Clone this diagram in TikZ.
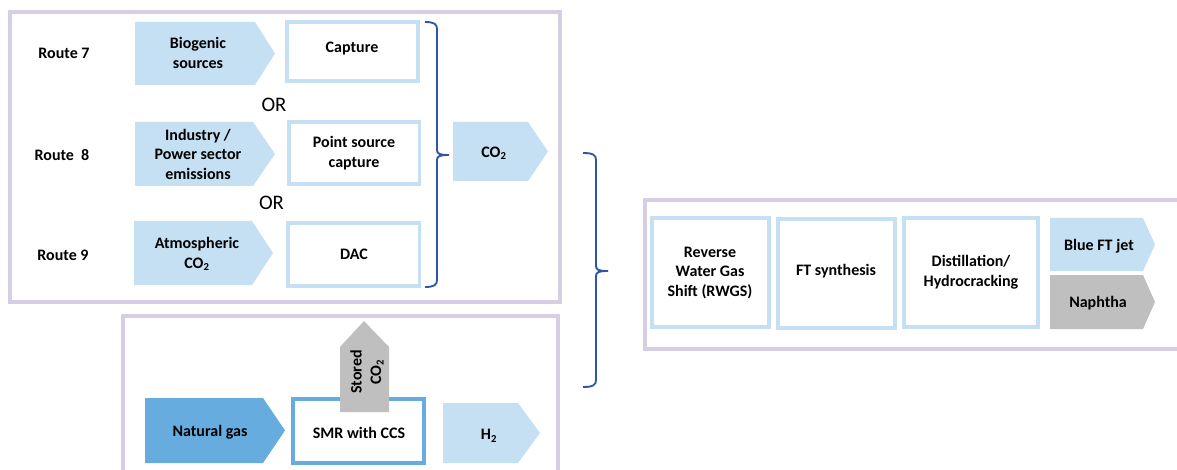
\documentclass[tikz,border=0pt]{standalone}
\usepackage{fontspec}
\setmainfont{Carlito}
\definecolor{lblue}{HTML}{C5DFF3}
\definecolor{mblue}{HTML}{66ACDF}
\definecolor{lpurple}{HTML}{D6CEE4}
\definecolor{grayf}{HTML}{BFBFBF}
\definecolor{bracec}{HTML}{2F55A4}
\newcommand{\hplate}[6]{\fill[#6] (#1,#2) -- (#3,#2) -- (#4,{(#2+#5)/2}) -- (#3,#5) -- (#1,#5) -- cycle;}
\newcommand{\mybrace}[5]{\draw[bracec,line width=1.4pt] (#1,#3) .. controls ({#2-3},#3) and (#2,{#3+2}) .. (#2,{#3+7}) -- (#2,{#4-5}) .. controls (#2,{#4-1}) and ({#2+3},#4) .. ({#2+12},#4) .. controls ({#2+3},#4) and (#2,{#4+1}) .. (#2,{#4+5}) -- (#2,{#5-7}) .. controls (#2,{#5-2}) and ({#2-3},#5) .. (#1,#5);}
\begin{document}
\begin{tikzpicture}[x=0.75pt,y=-0.75pt,
  txt/.style={font=\fontsize{12}{14.6}\selectfont\bfseries, align=center, inner sep=0pt},
  ortxt/.style={font=\fontsize{15.5}{18}\selectfont, inner sep=0pt},
  frame/.style={draw=lpurple, line width=2.3pt},
  stepbox/.style={draw=lblue, fill=white, line width=2.3pt},
  smrbox/.style={draw=mblue, fill=white, line width=2.4pt}]
\useasboundingbox[fill=white] (0,0) rectangle (1177,470);
% frames
\draw[frame] (10,12) rectangle (560,302);
\draw[frame] (123,316) rectangle (558,490);
\draw[frame] (645,200) rectangle (1195,349);
% route labels
\node[txt] (r7) at (64,53) {Route 7};
\node[txt] (r8) at (62,155) {Route\ \ 8};
\node[txt] (r9) at (63,255) {Route 9};
% input arrows
\hplate{135}{22}{255}{275}{85}{lblue}
\node[txt] (bio) at (198,53) {Biogenic\\sources};
\hplate{135}{122}{253}{275}{186}{lblue}
\node[txt] (ind) at (198,154) {Industry /\\Power sector\\emissions};
\hplate{134}{221}{252}{273}{285}{lblue}
\node[txt] (atm) at (197,254) {Atmospheric\\CO\textsubscript{2}};
% capture boxes
\draw[stepbox] (287,22) rectangle (418,81);
\node[txt] (cap) at (352,49) {Capture};
\draw[stepbox] (289,122) rectangle (419.5,184);
\node[txt] (psc) at (354,153) {Point source\\capture};
\draw[stepbox] (288,223) rectangle (419.5,286);
\node[txt] (dac) at (354,254) {DAC};
\node[ortxt] (or1) at (274,105) {OR};
\node[ortxt] (or2) at (271.5,203) {OR};
% brace 1
\mybrace{425}{437}{22}{155}{287}
% CO2 arrow
\hplate{453}{122}{528}{548}{181}{lblue}
\node[txt] (co2) at (494,153) {CO\textsubscript{2}};
% brace 2
\mybrace{583}{596}{153}{271}{387}
% lower frame
\hplate{145}{398}{263}{285}{463}{mblue}
\node[txt] (ng) at (210,432) {Natural gas};
\draw[smrbox] (293,399) rectangle (424,463);
\fill[grayf] (340,412) -- (340,347) -- (364,321) -- (389,347) -- (389,412) -- cycle;
\node[txt, rotate=90] (st) at (367,372) {Stored\\CO\textsubscript{2}};
\node[txt] (smr) at (359,433) {SMR with CCS};
\hplate{443}{403}{518}{540}{463}{lblue}
\node[txt] (h2) at (489,436) {H\textsubscript{2}};
% right frame
\draw[stepbox] (652,218) rectangle (769,327);
\node[txt] (rwgs) at (710,273) {Reverse\\Water Gas\\Shift (RWGS)};
\draw[stepbox] (778,219) rectangle (895,328);
\node[txt] (ft) at (836,271) {FT synthesis};
\draw[stepbox] (904,218) rectangle (1038,327);
\node[txt] (dist) at (971,272) {Distillation/\\Hydrocracking};
\hplate{1050}{218}{1143}{1155}{271}{lblue}
\node[txt] (jet) at (1099,246) {Blue FT jet};
\hplate{1050}{275}{1143}{1155}{329}{grayf}
\node[txt] (nap) at (1098,303) {Naphtha};
\end{tikzpicture}
\end{document}
